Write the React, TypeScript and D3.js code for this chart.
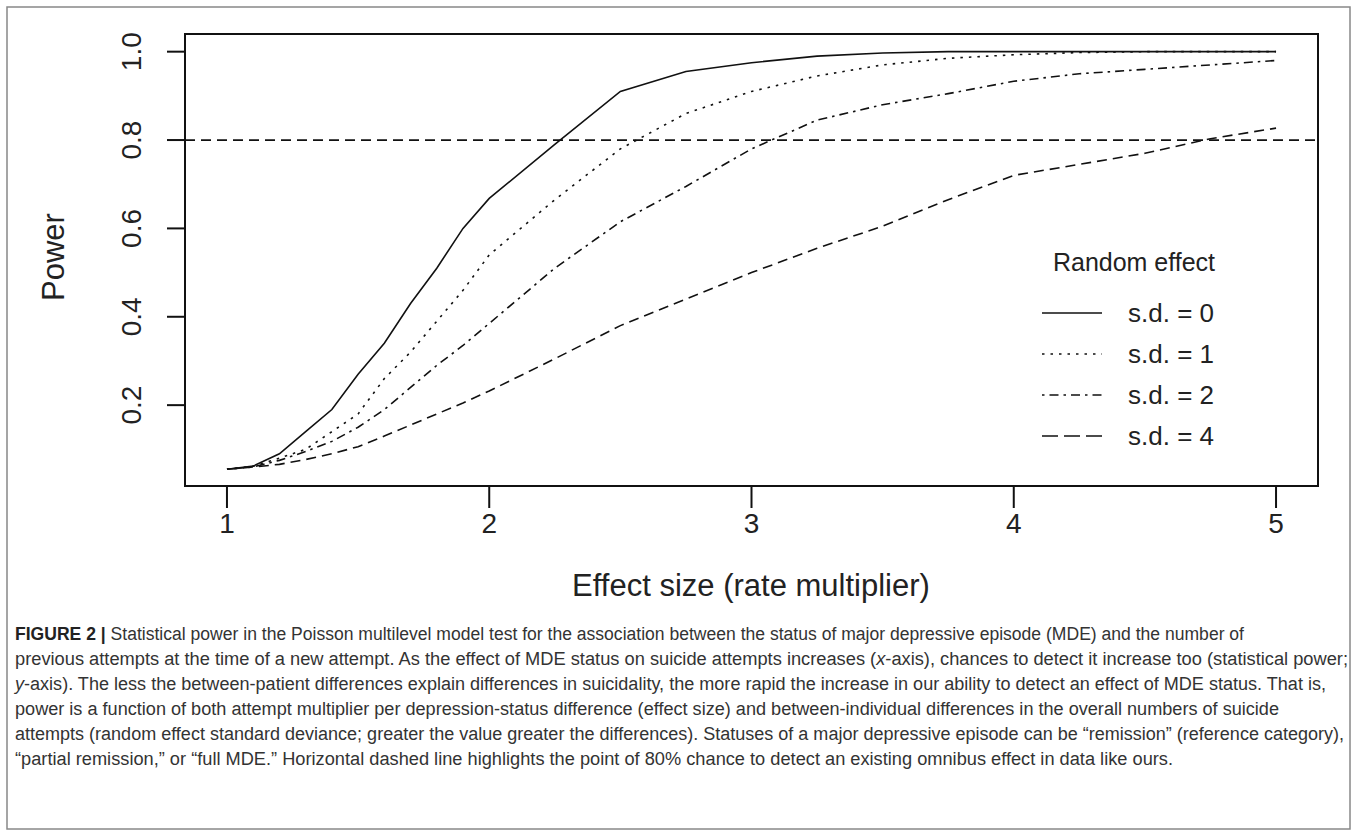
import React from 'react';
import * as d3 from 'd3';

// effect size grid (rate multiplier)
const effectSize = [1, 1.1, 1.2, 1.3, 1.4, 1.5, 1.6, 1.7, 1.8, 1.9, 2, 2.25, 2.5, 2.75, 3, 3.25, 3.5, 3.75, 4, 4.25, 4.5, 4.75, 5];

// power per random-effect s.d.
const powerSd0 = [0.055, 0.062, 0.09, 0.14, 0.19, 0.27, 0.34, 0.43, 0.51, 0.6, 0.668, 0.79, 0.91, 0.955, 0.975, 0.99, 0.997, 1.0, 1.0, 1.0, 1.0, 1.0, 1.0];
const powerSd1 = [0.055, 0.062, 0.08, 0.1, 0.14, 0.18, 0.26, 0.32, 0.39, 0.46, 0.54, 0.665, 0.78, 0.86, 0.91, 0.945, 0.97, 0.985, 0.993, 0.998, 1.0, 1.0, 1.0];
const powerSd2 = [0.055, 0.06, 0.075, 0.095, 0.118, 0.15, 0.19, 0.24, 0.29, 0.335, 0.385, 0.51, 0.615, 0.695, 0.78, 0.845, 0.88, 0.905, 0.933, 0.95, 0.96, 0.97, 0.98];
const powerSd4 = [0.055, 0.06, 0.066, 0.077, 0.09, 0.106, 0.13, 0.155, 0.18, 0.205, 0.232, 0.305, 0.38, 0.44, 0.5, 0.555, 0.605, 0.665, 0.72, 0.745, 0.77, 0.803, 0.827];

const seriesLabels = ['s.d. = 0', 's.d. = 1', 's.d. = 2', 's.d. = 4'];
const xTicks = [1, 2, 3, 4, 5];
const yTicks = [0.2, 0.4, 0.6, 0.8, 1.0];
const threshold = 0.8;

// caption lines, pieces marked italic where the original uses italics
const captionLines: { t: string; i?: boolean; b?: boolean }[][] = [
  [{ t: 'FIGURE 2 | ', b: true }, { t: 'Statistical power in the Poisson multilevel model test for the association between the status of major depressive episode (MDE) and the number of' }],
  [{ t: 'previous attempts at the time of a new attempt. As the effect of MDE status on suicide attempts increases (' }, { t: 'x', i: true }, { t: '-axis), chances to detect it increase too (statistical power;' }],
  [{ t: 'y', i: true }, { t: '-axis). The less the between-patient differences explain differences in suicidality, the more rapid the increase in our ability to detect an effect of MDE status. That is,' }],
  [{ t: 'power is a function of both attempt multiplier per depression-status difference (effect size) and between-individual differences in the overall numbers of suicide' }],
  [{ t: 'attempts (random effect standard deviance; greater the value greater the differences). Statuses of a major depressive episode can be \u201cremission\u201d (reference category),' }],
  [{ t: '\u201cpartial remission,\u201d or \u201cfull MDE.\u201d Horizontal dashed line highlights the point of 80% chance to detect an existing omnibus effect in data like ours.' }],
];
const captionWidths = [1229, 1333, 1311, 1264, 1329, 1158];

const W = 1357;
const H = 836;
const plot = { left: 185, right: 1318, top: 34, bottom: 486 };
const font = '"Liberation Sans", Arial, sans-serif';

const dashes = ['none', '2.5,6', '2.5,5,9,5', '10,6'];
const legendDashes = ['none', '2.5,6', '2.5,5,9,5', '16,6'];

export default function App() {
  // R style 4% padding around data range
  const x = d3.scaleLinear().domain([0.84, 5.16]).range([plot.left, plot.right]);
  const y = d3.scaleLinear().domain([0.017, 1.04]).range([plot.bottom, plot.top]);

  const series = [powerSd0, powerSd1, powerSd2, powerSd4].map((vals, i) => ({
    label: seriesLabels[i],
    dash: dashes[i],
    points: effectSize.map((e, j) => [e, vals[j]] as [number, number]),
  }));

  const line = d3.line<[number, number]>().x(d => x(d[0])).y(d => y(d[1]));

  const legendX = 1042;
  const legendY0 = 313;
  const legendStep = 41;

  return (
    <svg width={W} height={H} style={{ position: 'absolute', left: 0, top: 0, background: '#fff' }}>
      <rect x={7} y={7} width={1343} height={822} fill="#fff" stroke="#888" strokeWidth={1.5} />

      {/* horizontal 80% line */}
      <line x1={plot.left} x2={plot.right} y1={y(threshold)} y2={y(threshold)} stroke="#111" strokeWidth={1.8} strokeDasharray="10,6" />

      {series.map(s => (
        <path key={s.label} d={line(s.points) || ''} fill="none" stroke="#111" strokeWidth={1.6} strokeDasharray={s.dash} />
      ))}

      <rect x={plot.left} y={plot.top} width={plot.right - plot.left} height={plot.bottom - plot.top} fill="none" stroke="#111" strokeWidth={2} />

      {/* y axis */}
      {yTicks.map(t => (
        <g key={t}>
          <line x1={plot.left - 18} x2={plot.left} y1={y(t)} y2={y(t)} stroke="#111" strokeWidth={2} />
          <text transform={`translate(141,${y(t)}) rotate(-90)`} textAnchor="middle" fontFamily={font} fontSize={28} fill="#222">
            {t.toFixed(1)}
          </text>
        </g>
      ))}
      <text transform="translate(64,257) rotate(-90)" textAnchor="middle" fontFamily={font} fontSize={31} fill="#222">Power</text>

      {/* x axis */}
      {xTicks.map(t => (
        <g key={t}>
          <line x1={x(t)} x2={x(t)} y1={plot.bottom} y2={plot.bottom + 22} stroke="#111" strokeWidth={2} />
          <text x={x(t)} y={533} textAnchor="middle" fontFamily={font} fontSize={28} fill="#222">{t}</text>
        </g>
      ))}
      <text x={751} y={596} textAnchor="middle" fontFamily={font} fontSize={31} fill="#222">Effect size (rate multiplier)</text>

      {/* legend */}
      <text x={1134} y={271} textAnchor="middle" fontFamily={font} fontSize={25} fill="#222">Random effect</text>
      {series.map((s, i) => (
        <g key={s.label}>
          <line x1={legendX} x2={legendX + 60} y1={legendY0 + i * legendStep} y2={legendY0 + i * legendStep} stroke="#111" strokeWidth={1.6} strokeDasharray={legendDashes[i]} />
          <text x={1128} y={legendY0 + i * legendStep + 9} fontFamily={font} fontSize={26} fill="#222">{s.label}</text>
        </g>
      ))}

      {/* caption */}
      {captionLines.map((parts, i) => (
        <text key={i} x={15} y={640 + i * 25} fontFamily={font} fontSize={18} fill="#333"
          textLength={captionWidths[i]} lengthAdjust="spacingAndGlyphs">
          {parts.map((p, k) => (
            <tspan key={k} fontWeight={p.b ? 'bold' : undefined} fontStyle={p.i ? 'italic' : undefined} fill={p.b ? '#222' : undefined}>
              {p.t}
            </tspan>
          ))}
        </text>
      ))}
    </svg>
  );
}
